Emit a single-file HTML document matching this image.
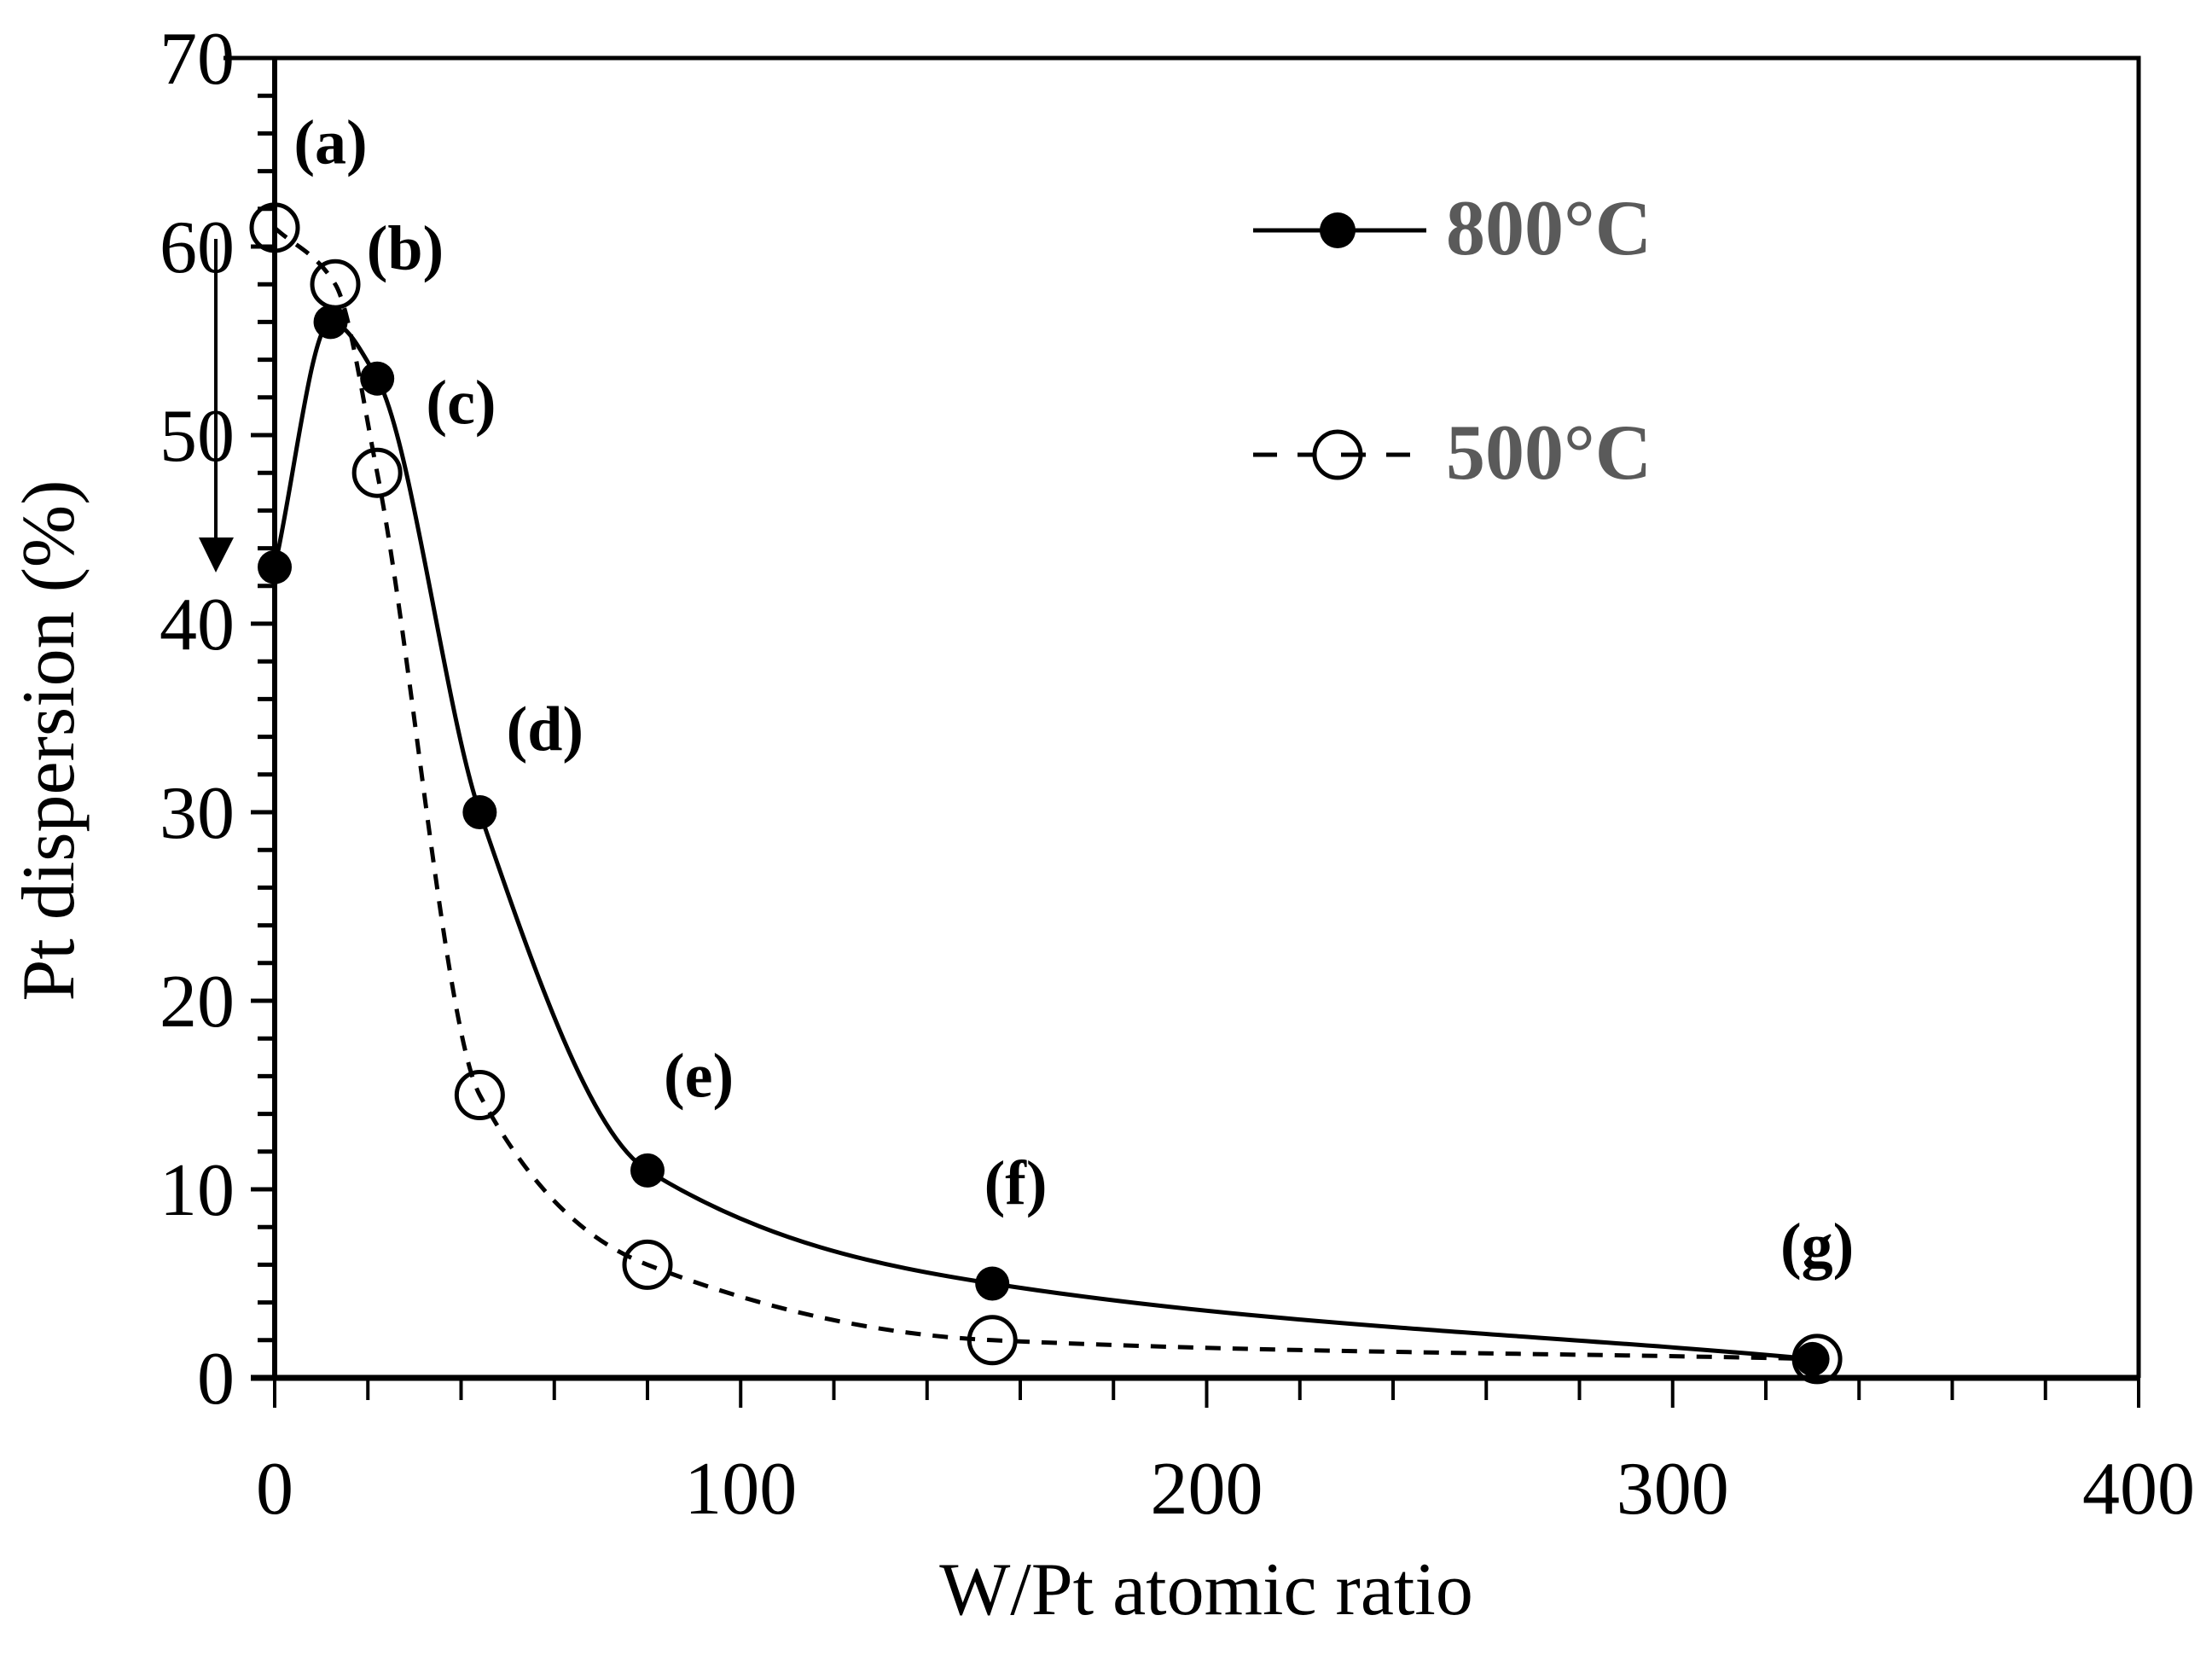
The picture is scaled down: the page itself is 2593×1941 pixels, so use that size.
<!DOCTYPE html>
<html><head><meta charset="utf-8"><style>
html,body{margin:0;padding:0;background:#fff}
svg{display:block}
text{font-family:"Liberation Serif",serif}
</style></head><body>
<svg id="chart" width="2593" height="1941" viewBox="0 0 2593 1941" xmlns="http://www.w3.org/2000/svg">
<g id="axes"></g>
<g id="series"></g>
<g>
  <line x1="1469" y1="270" x2="1672" y2="270" stroke="#000" stroke-width="5"/>
  <circle cx="1568" cy="270" r="21" fill="#000"/>
  <text x="1695" y="298" font-size="92" font-weight="bold" fill="#5a5a5a">800°C</text>
  <line x1="1469" y1="533" x2="1672" y2="533" stroke="#000" stroke-width="5" stroke-dasharray="28,24"/>
  <circle cx="1568" cy="533" r="27" fill="#fff" stroke="#000" stroke-width="5"/>
  <line x1="1572" y1="533" x2="1595" y2="533" stroke="#000" stroke-width="5"/>
  <text x="1695" y="561" font-size="92" font-weight="bold" fill="#5a5a5a">500°C</text>
</g>
<g>
  <line x1="253" y1="280" x2="253" y2="632" stroke="#000" stroke-width="4"/>
  <polygon points="233,630 274,630 253,671" fill="#000"/>
</g>
<text x="1414" y="1892" font-size="88" text-anchor="middle">W/Pt atomic ratio</text>
<text x="0" y="0" font-size="88" text-anchor="middle" transform="translate(86,868) rotate(-90)">Pt dispersion (%)</text>
</svg>
<script>
const xTicks=[0,100,200,300,400];
const yTicks=[0,10,20,30,40,50,60,70];
const xs800=[0,12,22,44,80,154,330];
const ys800=[43,56,53,30,11,5,1];
const xs500=[0,13,22,44,80,154,331];
const ys500=[61,58,48,15,6,2,1];
const pointLabels=['(a)','(b)','(c)','(d)','(e)','(f)','(g)'];
const labelX=[12,28,40,58,91,159,331];
const labelY=[65.4,59.8,51.6,34.3,15.9,10.2,6.9];

const NS='http://www.w3.org/2000/svg';
const X0=322,X1=2507,Y0=1615,Y1=68;
const sx=v=>X0+(v-0)/(400-0)*(X1-X0);
const sy=v=>Y0-(v-0)/(70-0)*(Y0-Y1);
function mk(tag,attrs,parent){const e=document.createElementNS(NS,tag);for(const k in attrs)e.setAttribute(k,attrs[k]);parent.appendChild(e);return e;}
const axes=document.getElementById('axes');
const ser=document.getElementById('series');

let f=mk('path',{d:`M${X0-60},${Y1} H${X1} V${Y0}`,fill:'none',stroke:'#000','stroke-width':5},axes);


let ya=mk('line',{x1:X0,y1:Y1,x2:X0,y2:Y0,stroke:'#000','stroke-width':6},axes);


let xa=mk('line',{x1:X0-28,y1:Y0,x2:X1,y2:Y0,stroke:'#000','stroke-width':7},axes);



for(let v=0;v<=70;v+=2){
  const major=v%10===0;
  const t=mk('line',{x1:major?X0-28:X0-20,y1:sy(v),x2:X0,y2:sy(v),stroke:'#000','stroke-width':5},axes);
  
  
}
yTicks.forEach(v=>{
  const t=mk('text',{x:X0-47,y:sy(v)+30,'font-size':88,'text-anchor':'end'},axes);
  t.textContent=v;
  
  
});
for(let v=0;v<=400;v+=20){
  const major=v%100===0;
  const t=mk('line',{x1:sx(v),y1:Y0,x2:sx(v),y2:Y0+(major?35:26),stroke:'#000','stroke-width':4},axes);
  
  
}
xTicks.forEach(v=>{
  const t=mk('text',{x:sx(v),y:1774,'font-size':88,'text-anchor':'middle'},axes);
  t.textContent=v;
  
  
});

function spline(xsArr,ysArr){
  const X=xsArr.map(sx),Y=ysArr.map(sy),n=X.length;
  const d=[],m=[];
  for(let i=0;i<n-1;i++)d.push((Y[i+1]-Y[i])/(X[i+1]-X[i]));
  m[0]=d[0];m[n-1]=d[n-2];
  for(let i=1;i<n-1;i++){
    if(d[i-1]*d[i]<=0)m[i]=0;
    else{const w1=2*(X[i+1]-X[i])+(X[i]-X[i-1]),w2=(X[i+1]-X[i])+2*(X[i]-X[i-1]);
      m[i]=(w1+w2)/(w1/d[i-1]+w2/d[i]);}
  }
  let p=`M${X[0]},${Y[0]}`;
  for(let i=0;i<n-1;i++){
    const h=(X[i+1]-X[i])/3;
    p+=` C${X[i]+h},${Y[i]+m[i]*h} ${X[i+1]-h},${Y[i+1]-m[i+1]*h} ${X[i+1]},${Y[i+1]}`;
  }
  return p;
}
let l5=mk('path',{d:spline(xs500,ys500),fill:'none',stroke:'#000','stroke-width':5,'stroke-dasharray':'18,14'},ser);


let l8=mk('path',{d:spline(xs800,ys800),fill:'none',stroke:'#000','stroke-width':5},ser);


xs500.forEach((x,i)=>{
  const c=mk('circle',{cx:sx(x),cy:sy(ys500[i]),r:27,fill:'none',stroke:'#000','stroke-width':5},ser);
  
  
});
xs800.forEach((x,i)=>{
  const c=mk('circle',{cx:sx(x),cy:sy(ys800[i]),r:20,fill:'#000'},ser);
  
  
});
pointLabels.forEach((s,i)=>{
  const t=mk('text',{x:sx(labelX[i]),y:sy(labelY[i])+22,'font-size':74,'font-weight':'bold','text-anchor':'middle'},ser);
  t.textContent=s;
  
  
});
</script>
</body></html>
